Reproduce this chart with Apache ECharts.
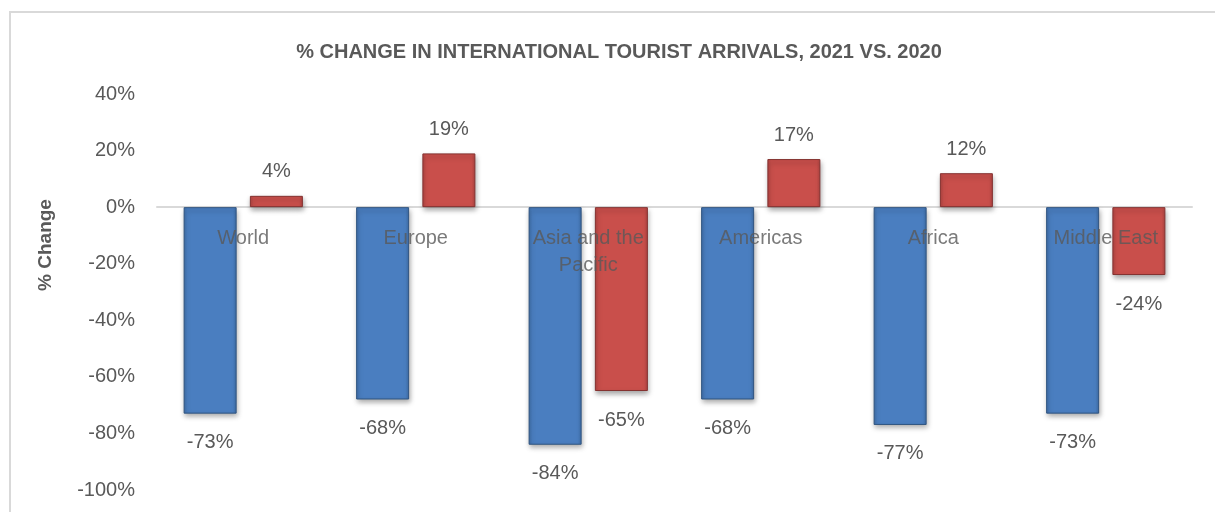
<!DOCTYPE html>
<html><head><meta charset="utf-8">
<script src="https://cdn.jsdelivr.net/npm/echarts@6/dist/echarts.min.js"></script>
<style>html,body{margin:0;padding:0;background:#fff}#c{width:1215px;height:512px}</style>
</head><body><div id="c"></div>
<script>
const categories = ['World', 'Europe', 'Asia and the\nPacific', 'Americas', 'Africa', 'Middle East'];
const change2020 = [-73, -68, -84, -68, -77, -73];
const change2021 = [4, 19, -65, 17, 12, -24];
const yTicks = { min: -100, max: 40, interval: 20 };
const titleText = '% CHANGE IN INTERNATIONAL TOURIST ARRIVALS, 2021 VS. 2020';
const yName = '% Change';

const FONT = "'Liberation Sans Narrow', 'Arial Narrow', 'Liberation Sans', Arial, sans-serif";
const GRAY = '#595959';

function mk(vals) {
  return vals.map(v => ({
    value: v,
    label: { position: v < 0 ? 'bottom' : 'top', distance: v < 0 ? 19 : 14 }
  }));
}
function barStyle(base, edge, dark) {
  return {
    color: new echarts.graphic.LinearGradient(0, 0, 1, 0, [
      { offset: 0, color: edge }, { offset: 0.07, color: base },
      { offset: 0.93, color: base }, { offset: 1, color: edge }
    ]),
    borderColor: dark, borderWidth: 1,
    shadowColor: 'rgba(0,0,0,0.35)', shadowBlur: 5, shadowOffsetX: 1, shadowOffsetY: 3
  };
}
const labelCfg = { show: true, fontFamily: FONT, fontSize: 20, color: GRAY, formatter: p => p.value + '%' };

const chart = echarts.init(document.getElementById('c'), null, { renderer: 'canvas' });
chart.setOption({
  backgroundColor: '#fff',
  animation: false,
  title: {
    text: titleText, left: 614, top: 37, textAlign: 'center',
    textStyle: { fontFamily: FONT, fontSize: 20, fontWeight: 'bold', color: GRAY }
  },
  graphic: [
    { type: 'rect', shape: { x: 10, y: 12, width: 1230, height: 530 }, style: { fill: 'none', stroke: '#d9d9d9', lineWidth: 2 }, silent: true },
    { type: 'text', x: 46, y: 245, rotation: Math.PI / 2,
      style: { text: yName, fontFamily: FONT, fontSize: 19, fontWeight: 'bold', fill: GRAY, align: 'center', verticalAlign: 'middle' } }
  ],
  grid: { left: 157, right: 23, top: 94, bottom: 22, containLabel: false, outerBoundsMode: 'none' },
  xAxis: {
    type: 'category', data: categories,
    axisLine: { show: true, onZero: true, lineStyle: { color: '#d9d9d9', width: 2 } },
    axisTick: { show: false },
    axisLabel: { show: false }
  },
  yAxis: {
    type: 'value', min: yTicks.min, max: yTicks.max, interval: yTicks.interval,
    axisLine: { show: false }, axisTick: { show: false }, splitLine: { show: false },
    axisLabel: { margin: 22, fontFamily: FONT, fontSize: 20, color: GRAY, formatter: v => v + '%' }
  },
  series: [
    { name: '2020', type: 'bar', data: mk(change2020), barWidth: 53, barGap: '25%',
      itemStyle: barStyle('#4a7ec0', '#3f6ea8', '#2f5480'), label: labelCfg, z: 2 },
    { name: '2021', type: 'bar', data: mk(change2021), barWidth: 53,
      itemStyle: barStyle('#c94f4b', '#b04441', '#843230'), label: labelCfg, z: 2 },
    { name: 'categoryLabels', type: 'scatter', symbolSize: 0, silent: true, z: 20,
      data: categories.map(c => [c, 0]),
      label: { show: true, position: 'bottom', distance: 18, fontFamily: FONT, fontSize: 20,
        lineHeight: 27, color: GRAY, formatter: p => p.data[0] } }
  ]
});
</script></body></html>
